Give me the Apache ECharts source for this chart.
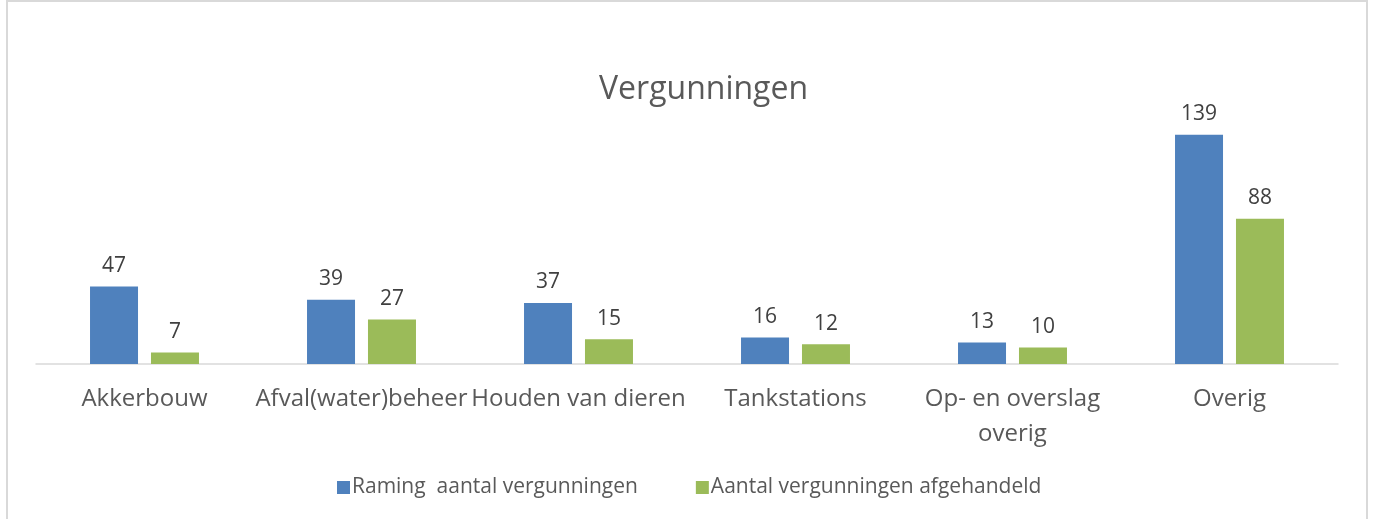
<!DOCTYPE html>
<html>
<head>
<meta charset="utf-8">
<script src="https://cdn.jsdelivr.net/npm/echarts@6/dist/echarts.min.js"></script>
<style>
  html, body { margin: 0; padding: 0; background: #fff; }
  #main { position: absolute; left: 6px; top: 0; width: 1362px; height: 530px;
          border: 2px solid #d9d9d9; box-sizing: border-box; }
  #chart { position: absolute; left: 0; top: 0; width: 1373px; height: 519px; }
</style>
</head>
<body>
<div id="main"></div>
<div id="chart"></div>
<script>
var categories = ['Akkerbouw', 'Afval(water)beheer', 'Houden van dieren', 'Tankstations', 'Op- en overslag\noverig', 'Overig'];
var ramingValues = [47, 39, 37, 16, 13, 139];
var afgehandeldValues = [7, 27, 15, 12, 10, 88];
var seriesNames = ['Raming  aantal vergunningen', 'Aantal vergunningen afgehandeld'];

var textColor = '#595959';
var fontFamily = '"Open Sans", "Noto Sans", sans-serif';

var chart = echarts.init(document.getElementById('chart'));

var option = {
    animation: false,
    textStyle: { fontFamily: fontFamily },
    title: {
        text: 'Vergunningen',
        left: 594,
        top: 69,
        textStyle: { fontSize: 32, fontWeight: 'normal', color: textColor, fontFamily: fontFamily }
    },
    legend: {
        top: 472,
        left: 332,
        itemWidth: 13,
        itemHeight: 13,
        itemGap: 58,
        icon: 'rect',
        textStyle: { fontSize: 21, color: textColor, padding: [0, 0, 0, -3] },
        data: seriesNames
    },
    grid: {
        left: 36,
        right: 35,
        top: 100,
        bottom: 155,
        containLabel: false
    },
    xAxis: {
        type: 'category',
        data: categories,
        axisLine: { lineStyle: { color: '#d9d9d9', width: 1.5 } },
        axisTick: { show: false },
        axisLabel: {
            interval: 0,
            margin: 18,
            fontSize: 24,
            color: textColor,
            lineHeight: 35
        }
    },
    yAxis: {
        type: 'value',
        min: 0,
        max: 160,
        show: false,
        splitLine: { show: false }
    },
    series: [
        {
            name: seriesNames[0],
            type: 'bar',
            data: ramingValues,
            barWidth: 48,
            barGap: '27%',
            itemStyle: { color: '#4f81bd' },
            label: { show: true, position: 'top', distance: 10, fontSize: 21, color: '#404040' }
        },
        {
            name: seriesNames[1],
            type: 'bar',
            data: afgehandeldValues,
            barWidth: 48,
            itemStyle: { color: '#9bbb59' },
            label: { show: true, position: 'top', distance: 10, fontSize: 21, color: '#404040' }
        }
    ]
};

chart.setOption(option);
</script>
</body>
</html>
